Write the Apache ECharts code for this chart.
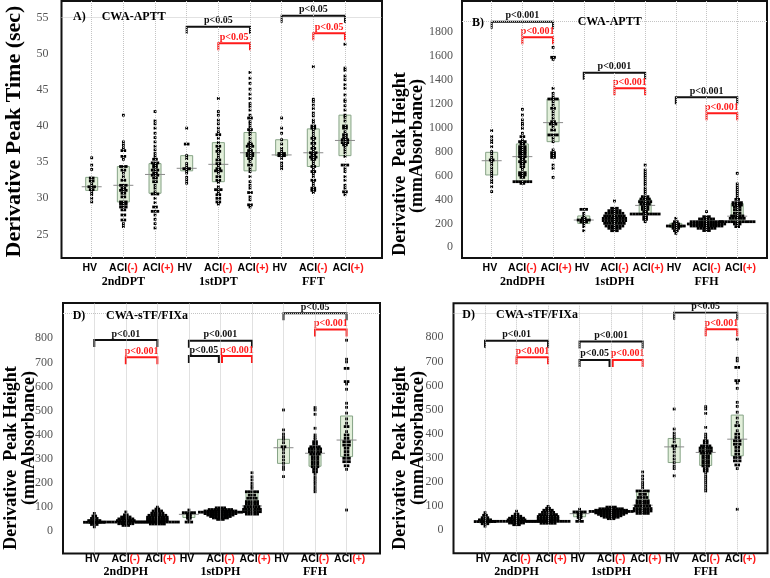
<!DOCTYPE html>
<html><head><meta charset="utf-8">
<script src="https://cdn.jsdelivr.net/npm/echarts@6/dist/echarts.min.js"></script>
<style>html,body{margin:0;padding:0;background:#fff}#c{width:770px;height:578px}</style>
</head><body><div id="c"></div>
<script>
// ---------- categories / tick labels ----------
const catNames = ['HV','ACI(-)','ACI(+)','HV','ACI(-)','ACI(+)','HV','ACI(-)','ACI(+)'];
const groupNamesA = ['2ndDPT','1stDPT','FFT'];
const groupNamesB = ['2ndDPH','1stDPH','FFH'];
const A_yTicks = [25,30,35,40,45,50,55];
const B_yTicks = [0,200,400,600,800,1000,1200,1400,1600,1800];
const C_yTicks = [0,100,200,300,400,500,600,700,800];

// ---------- Panel A: CWA-APTT peak time (rows: [value, number of dots]) ----------
const a2HV  = [[35.6,1],[34.6,1],[34.0,1],[32.8,2],[32.4,2],[32.0,1],[31.6,3],[31.2,2],[30.8,1],[30.5,1],[30.0,1],[29.5,1]];
const a2Neg = [[41.5,1],[37.8,1],[37.4,1],[37.0,1],[36.6,2],[35.8,2],[35.4,1],[34.4,3],[33.9,2],[33.5,1],[33.0,1],[32.5,2],[31.8,3],[31.4,2],[31.1,3],[30.7,2],[30.2,2],[29.5,3],[29.2,3],[28.8,3],[28.4,2],[27.7,2],[27.0,2],[26.5,1],[26.1,1]];
const a2Pos = [[42.0,1],[40.7,1],[40.3,1],[39.7,1],[39.0,1],[38.4,1],[37.8,1],[37.2,1],[36.7,1],[36.2,1],[35.8,1],[35.4,2],[34.9,3],[34.6,2],[34.3,2],[33.9,3],[33.5,2],[33.2,3],[32.8,2],[32.3,2],[31.8,1],[31.4,1],[30.9,1],[30.6,3],[30.0,1],[29.4,1],[28.8,2],[28.2,3],[27.7,1],[27.1,1],[26.5,1],[25.9,1]];
const a1HV  = [[39.7,1],[37.5,2],[35.9,1],[35.5,1],[34.8,1],[34.4,1],[34.1,3],[33.8,1],[33.5,1],[32.9,1],[32.5,1],[32.1,1]];
const a1Neg = [[43.8,1],[42.0,1],[41.5,1],[40.8,1],[40.3,1],[39.7,1],[39.2,1],[38.8,2],[38.3,1],[37.7,1],[37.2,2],[36.8,1],[36.5,2],[36.1,1],[35.7,1],[35.3,2],[34.8,2],[34.5,1],[34.1,2],[33.8,3],[33.5,1],[33.0,2],[32.5,2],[32.2,1],[31.6,1],[31.2,3],[30.8,1],[30.5,2],[30.0,2],[29.5,2],[29.2,1]];
const a1Pos = [[47.4,1],[46.6,1],[45.9,1],[45.1,1],[44.4,1],[43.8,1],[43.1,1],[42.7,1],[42.2,1],[41.5,1],[41.1,2],[40.6,1],[40.3,1],[39.9,1],[39.5,2],[39.1,1],[38.8,1],[38.3,1],[37.8,1],[37.5,2],[37.2,3],[36.9,1],[36.6,2],[36.2,3],[35.9,3],[35.5,2],[35.1,1],[34.6,2],[34.1,1],[33.7,1],[33.0,1],[32.3,1],[31.8,1],[31.4,1],[30.8,2],[30.2,1],[29.8,1],[29.1,2],[28.8,1]];
const aFHV  = [[41.1,1],[39.7,1],[39.0,1],[38.1,1],[37.5,1],[36.9,1],[36.5,1],[36.2,3],[35.9,3],[35.5,1],[34.9,1],[34.5,1],[34.1,1]];
const aFNeg = [[48.2,1],[43.7,1],[43.4,1],[42.9,1],[42.4,1],[41.8,1],[41.4,1],[40.8,1],[40.5,1],[40.0,2],[39.7,2],[39.4,1],[39.0,1],[38.6,1],[38.3,2],[38.0,1],[37.6,2],[37.2,1],[36.9,2],[36.6,1],[36.3,3],[36.0,2],[35.7,3],[35.4,2],[35.1,1],[34.8,1],[34.4,2],[34.0,1],[33.7,2],[33.4,1],[33.0,1],[32.5,2],[32.2,1],[31.8,1],[31.4,2],[31.1,2],[30.8,1]];
const aFPos = [[51.3,1],[48.0,1],[47.7,1],[46.9,1],[46.4,1],[45.7,1],[45.2,1],[44.3,1],[43.6,1],[43.4,1],[42.8,1],[42.2,1],[41.5,1],[41.2,1],[40.7,1],[40.0,2],[39.7,2],[39.2,1],[38.8,2],[38.4,2],[38.1,3],[37.7,3],[37.4,2],[37.1,1],[36.7,1],[36.3,1],[35.8,1],[34.6,3],[34.1,1],[33.7,1],[33.0,1],[32.5,1],[31.8,1],[31.4,1],[30.9,2],[30.5,1]];
const A_rows = [a2HV,a2Neg,a2Pos,a1HV,a1Neg,a1Pos,aFHV,aFNeg,aFPos];
const A_boxes = [[31.1,31.6,32.9],[29.5,31.8,34.4],[30.7,33.3,34.8],[33.8,34.15,35.9],[32.3,34.7,37.7],[33.8,36.3,39.1],[35.9,36.0,38.1],[34.4,36.3,39.6],[35.9,38.0,41.5]];
const A_brackets = [[4,6,53.73,'p<0.05','k'],[5,6,51.43,'p<0.05','r'],[7,9,55.25,'p<0.05','k'],[8,9,52.82,'p<0.05','r']];

// ---------- Panel B: CWA-APTT peak height ----------
const b2HV  = [[974,1],[924,1],[896,1],[874,1],[840,1],[799,1],[779,1],[751,1],[729,2],[710,1],[687,1],[659,1],[632,1],[612,1],[590,1],[562,1],[540,1],[506,1],[465,1]];
const b2Neg = [[1152,1],[1105,1],[1063,1],[1035,1],[1021,1],[993,1],[952,1],[924,2],[896,1],[882,3],[863,2],[840,3],[818,3],[799,3],[779,3],[757,3],[735,2],[715,3],[696,2],[673,2],[651,1],[623,3],[604,3],[584,2],[548,7],[534,2]];
const b2Pos = [[1669,1],[1586,2],[1569,1],[1327,1],[1285,1],[1258,1],[1238,4],[1216,1],[1188,1],[1160,2],[1132,1],[1105,1],[1077,1],[1049,2],[1029,3],[1007,1],[979,2],[938,4],[910,1],[882,1],[813,1],[790,2],[771,2],[751,2],[687,1],[659,1],[584,1]];
const b1HV  = [[317,3],[284,1],[262,1],[242,2],[228,5],[212,3],[195,1],[173,1],[139,1]];
const b1Neg = [[387,1],[326,3],[306,5],[284,7],[262,8],[242,9],[223,9],[200,8],[178,7],[159,5],[139,3]];
const b1Pos = [[687,1],[645,1],[623,1],[604,1],[584,1],[562,1],[540,1],[520,1],[493,1],[473,1],[451,1],[423,3],[403,4],[381,5],[362,4],[340,3],[317,3],[298,2],[278,11],[256,2],[234,2],[214,1]];
const bFHV  = [[242,1],[214,2],[195,3],[178,7],[159,3],[139,2],[117,1]];
const bFNeg = [[298,1],[256,3],[237,6],[214,12],[195,14],[178,12],[159,7],[140,3]];
const bFPos = [[618,1],[529,1],[506,1],[484,1],[465,1],[445,1],[423,1],[400,2],[373,4],[353,4],[334,3],[312,3],[284,3],[262,5],[242,6],[214,13],[195,3],[173,2]];
const B_rows = [b2HV,b2Neg,b2Pos,b1HV,b1Neg,b1Pos,bFHV,bFNeg,bFPos];
const B_boxes = [[604,723,793],[548,757,863],[882,1041,1238],[200,228,262],[200,240,290],[280,350,400],[165,178,200],[175,195,220],[210,260,365]];
const B_brackets = [[1,3,1883,'p<0.001','k'],[2,3,1753,'p<0.001','r'],[4,6,1458,'p<0.001','k'],[5,6,1327,'p<0.001','r'],[7,9,1252,'p<0.001','k'],[8,9,1119,'p<0.001','r']];

// ---------- Panels C / D: CWA-sTF/FIXa peak height ----------
const c2HV  = [[72,1],[61,2],[51,3],[42,5],[35,8],[26,3],[16,1]];
const c2Neg = [[78,1],[66,2],[57,4],[49,6],[42,7],[36,26],[29,6],[22,3]];
const c2Pos = [[98,1],[90,2],[82,4],[73,5],[64,7],[56,8],[48,8],[41,8],[36,16],[28,6]];
const c1HV  = [[86,1],[75,5],[68,2],[60,2],[52,2],[44,1],[36,3]];
const c1Neg = [[95,4],[88,9],[82,12],[77,16],[71,12],[65,10],[59,8],[53,6],[47,3]];
const c1Pos = [[241,1],[224,1],[211,1],[197,1],[186,1],[176,1],[162,5],[148,3],[135,4],[121,5],[111,5],[100,6],[89,7],[79,7],[69,5]];
const cFHV  = [[502,1],[419,1],[402,1],[391,1],[380,1],[366,1],[349,2],[338,1],[324,1],[308,1],[294,1],[280,1],[266,1],[255,1],[225,1]];
const cFNeg = [[512,1],[502,1],[484,1],[426,1],[398,1],[388,1],[380,1],[370,2],[361,2],[349,4],[340,5],[329,5],[319,4],[308,3],[298,3],[287,3],[277,3],[266,3],[255,2],[245,2],[236,1],[224,1],[214,1],[204,1],[194,1],[183,1],[172,1],[162,1]];
const cFPos = [[792,1],[713,1],[702,1],[675,2],[620,2],[610,1],[588,1],[530,1],[513,1],[489,1],[465,1],[447,1],[433,2],[412,1],[398,2],[384,2],[370,3],[356,3],[343,2],[329,2],[315,2],[301,3],[287,3],[270,2],[255,1],[86,1]];
const C_rows = [c2HV,c2Neg,c2Pos,c1HV,c1Neg,c1Pos,cFHV,cFNeg,cFPos];
const C_boxes = [[30,36,45],[32,38,48],[38,48,62],[55,68,75],[65,76,85],[85,103,163],[280,345,380],[268,322,345],[308,377,477]];
const C_brackets = [[1,3,793,'p<0.01','k'],[2,3,721,'p<0.001','r'],[4,6,790,'p<0.001','k'],[4,4.95,726,'p<0.05','k'],[5.05,6,726,'p<0.001','r'],[7,9,904,'p<0.05','k'],[8,9,837,'p<0.001','r']];
const D_brackets = [[1,3,786,'p<0.01','k'],[2,3,717,'p<0.001','r'],[4,6,782,'p<0.001','k'],[4,4.95,706,'p<0.05','k'],[5.05,6,706,'p<0.001','r'],[7,9,902,'p<0.05','k'],[8,9,833,'p<0.001','r']];

// ---------- layout ----------
const labelShift = [-0.06, 0, 0.1];   // small horizontal offsets of the x labels (HV, ACI(-), ACI(+))
const panels = [
  {grid:{left:61.5, top:1, width:320.5, height:257}, x:[0.046,10.17], y:[21.75,57.28], ticks:A_yTicks, groups:groupNamesA, rows:A_rows, boxes:A_boxes, brackets:A_brackets, topLine:55, yMargin:13, xMargin:4},
  {grid:{left:462, top:1, width:305, height:257}, x:[0.033,9.97], y:[-89,2056], ticks:B_yTicks, groups:groupNamesB, rows:B_rows, boxes:B_boxes, brackets:B_brackets, topLine:1889, yMargin:9, xMargin:4},
  {grid:{left:63, top:303, width:317, height:250.5}, x:[0.008,10.06], y:[-94.8,946.8], ticks:C_yTicks, groups:groupNamesB, rows:C_rows, boxes:C_boxes, brackets:C_brackets, topLine:904, yMargin:10, xMargin:-1},
  {grid:{left:453.5, top:303.3, width:314, height:250}, x:[0.001,9.96], y:[-96.7,941], ticks:C_yTicks, groups:groupNamesB, rows:C_rows, boxes:C_boxes, brackets:D_brackets, topLine:900, yMargin:10, xMargin:-1}
];
const RED = '#ff1a1a';
const SERIF = '"Liberation Serif","Times New Roman",serif';
const SANS = '"Liberation Sans",Arial,sans-serif';

function labelFmt(groups){
  return function(v){
    const i = Math.round(v) - 1;
    const name = catNames[i];
    let s = name.indexOf('ACI') === 0 ? 'ACI{r|' + name.slice(3) + '}' : name;
    if (i % 3 === 1) s += '\n{g|' + groups[(i - 1) / 3] + '}';
    return s;
  };
}
function dotData(rows, stepX){
  const out = [];
  rows.forEach((g, i) => {
    g.forEach(([v, n]) => {
      for (let k = 0; k < n; k++) out.push([i + 1 + (k - (n - 1) / 2) * stepX, v]);
    });
  });
  return out;
}
const labelPositions = [1,2,3,4,5,6,7,8,9].map(v => v + labelShift[(v - 1) % 3]);

const grids = [], xAxes = [], yAxes = [], series = [];
panels.forEach((p, idx) => {
  grids.push(Object.assign({show:true, borderColor:'#111', borderWidth:2, backgroundColor:'#fff', containLabel:false, outerBoundsMode:'none'}, p.grid));
  xAxes.push({type:'value', gridIndex:idx, min:p.x[0], max:p.x[1],
    axisLine:{show:false}, axisTick:{show:false}, splitLine:{show:false},
    axisLabel:{customValues:labelPositions, formatter:labelFmt(p.groups), margin:p.xMargin,
      showMinLabel:true, showMaxLabel:true, hideOverlap:false,
      fontFamily:SANS, fontWeight:'bold', fontSize:10.5, color:'#000', lineHeight:13,
      rich:{r:{color:RED, fontFamily:SANS, fontWeight:'bold', fontSize:10.5, lineHeight:13},
            g:{color:'#000', fontFamily:SERIF, fontWeight:'bold', fontSize:12, lineHeight:13}}}});
  yAxes.push({type:'value', gridIndex:idx, min:p.y[0], max:p.y[1],
    axisLine:{show:false}, axisTick:{show:false}, splitLine:{show:false},
    axisLabel:{customValues:p.ticks, formatter:v => String(v), margin:p.yMargin, fontFamily:SERIF, fontSize:12, color:'#555'}});
  const stepX = 2.8 * (p.x[1] - p.x[0]) / p.grid.width;
  const boxes = p.boxes, br = p.brackets;
  series.push({type:'custom', xAxisIndex:idx, yAxisIndex:idx, z:2, silent:true,
    data: boxes.map((b, i) => [i + 1, b[0], b[1], b[2]]), encode:{x:0, y:[1,2,3]},
    renderItem:function(params, api){
      const b = boxes[params.dataIndex], pos = params.dataIndex + 1;
      const t = api.coord([pos, b[2]]), q = api.coord([pos, b[0]]), m = api.coord([pos, b[1]]);
      return {type:'group', children:[
        {type:'rect', shape:{x:t[0]-6, y:t[1], width:12, height:q[1]-t[1]}, style:{fill:'#e2efda', stroke:'#86a386', lineWidth:1}},
        {type:'line', shape:{x1:m[0]-10, y1:m[1], x2:m[0]+10, y2:m[1]}, style:{stroke:'#8a8a8a', lineWidth:1}}
      ]};
    },
    markLine:{silent:true, symbol:'none', animation:false, label:{show:false},
      lineStyle:{type:'dotted', color:'#c4c4c4', width:1},
      data:[1,2,3,4,5,6,7,8,9].map(v => ({xAxis:v})).concat([{yAxis:p.topLine}])}
  });
  series.push({type:'scatter', xAxisIndex:idx, yAxisIndex:idx, z:3, silent:true,
    symbol:'rect', symbolSize:2.8, itemStyle:{color:'#000', opacity:1, borderWidth:0},
    data: dotData(p.rows, stepX)});
  series.push({type:'custom', xAxisIndex:idx, yAxisIndex:idx, z:4, silent:true,
    data: br.map(b => [b[0], b[2]]), encode:{x:0, y:1},
    renderItem:function(params, api){
      const b = br[params.dataIndex];
      const c = b[4] === 'r' ? RED : '#111';
      const p1 = api.coord([b[0], b[2]]), p2 = api.coord([b[1], b[2]]);
      return {type:'group', children:[
        {type:'polyline', shape:{points:[[p1[0], p1[1]+7],[p1[0], p1[1]],[p2[0], p2[1]],[p2[0], p2[1]+7]]}, style:{stroke:c, lineWidth:2, fill:null}},
        {type:'text', x:(p1[0]+p2[0])/2, y:p1[1]-1, style:{text:b[3], fill:c, font:'bold 10px ' + SERIF, align:'center', verticalAlign:'bottom', textAlign:'center', textVerticalAlign:'bottom'}}
      ]};
    }
  });
});

function txt(x, y, text, font){
  return {type:'text', x:x, y:y, silent:true, z:10,
    style:{text:text, font:font, fill:'#000', align:'left', verticalAlign:'middle', textAlign:'left', textVerticalAlign:'middle'}};
}
function vtxt(x, y, text, size){
  return {type:'text', x:x, y:y, rotation:Math.PI/2, silent:true, z:10,
    style:{text:text, font:'bold ' + size + 'px ' + SERIF, fill:'#000', align:'center', verticalAlign:'middle', textAlign:'center', textVerticalAlign:'middle'}};
}
const graphic = [
  vtxt(14.5, 131.5, 'Derivative Peak Time (sec)', 22),
  vtxt(400.5, 164, 'Derivative  Peak Height', 18),
  vtxt(417, 146, '(mmAbsorbance)', 18),
  vtxt(11, 458, 'Derivative  Peak Height', 18),
  vtxt(29.5, 438, '(mmAbsorbance)', 18),
  vtxt(400.5, 458, 'Derivative  Peak Height', 18),
  vtxt(418, 438, '(mmAbsorbance)', 18),
  txt(73, 17.3, 'A)', 'bold 12px ' + SERIF),
  txt(101.7, 17.3, 'CWA-APTT', 'bold 12px ' + SERIF),
  txt(472, 22.7, 'B)', 'bold 12px ' + SERIF),
  txt(577.7, 22.3, 'CWA-APTT', 'bold 12px ' + SERIF),
  txt(72.7, 316, 'D)', 'bold 12px ' + SERIF),
  txt(106, 316, 'CWA-sTF/FIXa', 'bold 12px ' + SERIF),
  txt(462.3, 315, 'D)', 'bold 12px ' + SERIF),
  txt(496, 315, 'CWA-sTF/FIXa', 'bold 12px ' + SERIF)
];

const chart = echarts.init(document.getElementById('c'), null, {renderer:'canvas'});
chart.setOption({animation:false, backgroundColor:'#fff', grid:grids, xAxis:xAxes, yAxis:yAxes, series:series, graphic:graphic});
</script></body></html>
